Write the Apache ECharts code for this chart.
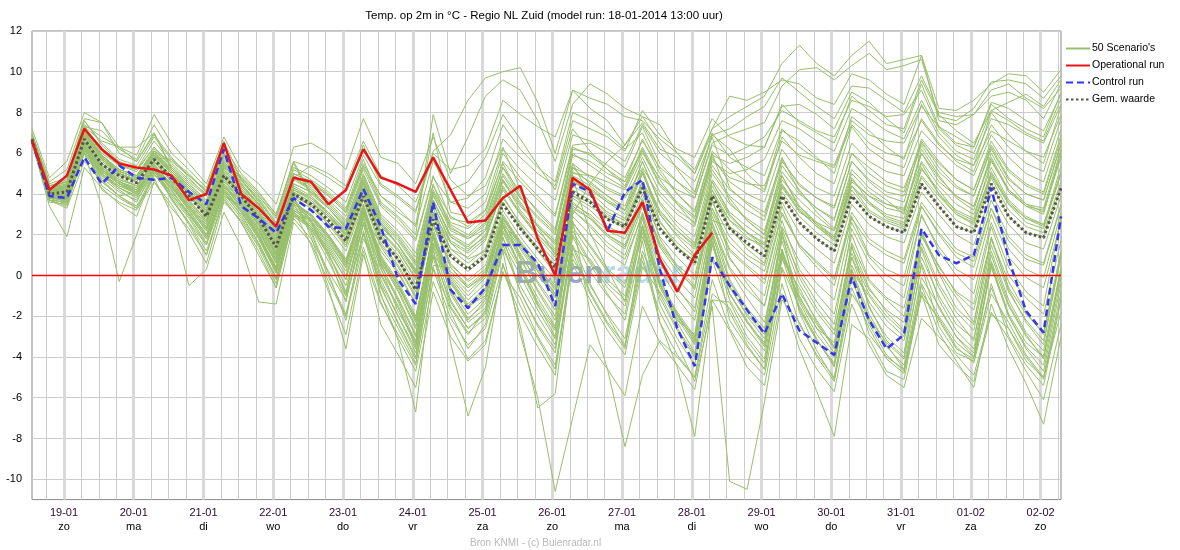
<!DOCTYPE html>
<html>
<head>
<meta charset="utf-8">
<title>Temp. op 2m - Regio NL Zuid</title>
<script src="https://cdn.jsdelivr.net/npm/echarts@6/dist/echarts.min.js"></script>
<style>
html, body { margin: 0; padding: 0; background: #fff; }
#main { width: 1180px; height: 550px; }
</style>
</head>
<body>
<div id="main"></div>
<script>
// hours since first forecast step (18-01 13:00), 6-hourly
var hours = [0,6,12,18, 24,30,36,42, 48,54,60,66, 72,78,84,90, 96,102,108,114, 120,126,132,138,
  144,150,156,162, 168,174,180,186, 192,198,204,210, 216,222,228,234, 240,246,252,258,
  264,270,276,282, 288,294,300,306, 312,318,324,330, 336,342,348,354];

// midnight of each day, in the same hours
var dayHours = [11,35,59,83,107,131,155,179,203,227,251,275,299,323,347];
var dayLabels = ['19-01','20-01','21-01','22-01','23-01','24-01','25-01','26-01','27-01','28-01','29-01','30-01','31-01','01-02','02-02'];
var weekDays = ['zo','ma','di','wo','do','vr','za','zo','ma','di','wo','do','vr','za','zo'];
var yTicks = [-10,-8,-6,-4,-2,0,2,4,6,8,10,12];

var operational = [6.6,4.2,4.9,7.2,  6.2,5.5,5.3,5.2,  4.9,3.7,4.0,6.5,  4.0,3.3,2.4,4.8,  4.6,3.5,4.2,6.2,
  4.8,4.5,4.1,5.8,  4.2,2.6,2.7,3.8,  4.4,1.8,0.0,4.8,  4.2,2.2,2.1,3.6,  0.8,-0.8,1.0,2.1];

var control = [6.6,3.9,3.8,5.8,  4.5,5.4,4.8,4.7,  4.8,4.1,3.5,6.2,  3.4,2.8,2.1,3.8,  3.2,2.4,2.3,4.25,
  2.4,-0.2,-1.4,3.6,  -0.7,-1.6,-0.6,1.5,  1.5,0.6,-1.5,4.5,  4.1,2.2,4.1,4.7,  0.3,-2.6,-4.45,0.9,
  -0.5,-1.7,-2.85,-0.9,  -2.7,-3.3,-3.9,-0.1,  -2.2,-3.6,-2.9,2.3,  1.0,0.6,1.0,4.3,  0.8,-1.75,-2.8,2.9];

var mean = [6.7,4.0,4.1,6.7,  5.45,4.9,4.55,5.7,  4.8,3.9,2.9,4.9,  3.9,2.8,1.4,4.0,  3.5,2.7,1.7,3.9,
  1.8,0.8,-0.7,2.75,  0.95,0.3,0.95,3.5,  2.3,1.3,0.4,4.1,  3.6,2.75,2.4,4.3,  2.3,1.3,0.6,3.9,
  2.3,1.6,0.95,3.9,  2.6,1.8,1.2,3.9,  2.9,2.4,2.1,4.5,  3.4,2.4,2.1,4.5,  2.9,2.1,1.85,4.3];

// freezing line, from the first to the last forecast hour
var zeroLine = [[0, 0], [354, 0]];

// the 50 ensemble members
var scenarios = [
  [6.9,4.3,4.4,7.1, 5.8,5.1,4.8,6.0, 5.0,4.1,3.2,5.3, 4.2,3.1,1.8,4.4, 3.9,3.0,2.1,4.6, 2.6,1.5,0.2,3.9, 2.4,1.8,2.3,4.9, 3.6,2.4,1.5,5.1, 4.6,3.9,3.2,5.6, 3.5,2.4,1.6,5.0, 3.8,2.7,2.0,5.4, 4.2,3.1,2.3,5.2, 4.3,3.7,3.0,6.2, 4.9,3.8,3.2,6.0, 4.5,3.5,3.1,5.8],
  [6.6,3.8,3.9,6.4, 5.2,4.6,4.2,5.4, 4.5,3.5,2.5,4.6, 3.6,2.4,0.9,3.7, 2.6,0.9,-1.3,2.6, 0.4,-1.8,-3.2,1.6, 0.2,-0.6,0.0,2.9, 1.5,0.4,-0.7,3.3, 2.8,1.9,1.3,3.6, 1.4,0.2,-0.6,3.1, 1.2,0.4,-0.4,3.0, 1.5,0.6,-0.2,3.1, 1.8,1.2,0.8,3.6, 2.4,1.3,0.9,3.7, 1.9,1.0,0.6,3.5],
  [6.8,4.1,4.2,7.4, 6.8,6.3,5.6,7.0, 5.3,4.5,3.6,5.8, 4.5,3.5,2.3,4.9, 4.4,3.7,2.9,5.2, 3.4,2.6,1.7,4.8, 3.6,3.3,4.0,6.7, 5.8,5.0,4.4,7.6, 7.2,6.8,6.1,8.1, 6.9,6.2,5.8,7.7, 6.8,6.4,6.3,8.4, 7.5,7.0,6.5,8.8, 8.1,7.4,7.2,9.6, 7.9,7.1,6.5,8.1, 7.6,7.0,6.6,8.7],
  [6.7,3.9,3.7,6.3, 5.0,4.4,4.1,5.5, 4.4,3.3,2.2,4.4, 3.3,2.0,0.4,3.3, 2.7,1.5,0.2,2.9, 0.3,-1.2,-3.0,1.6, -0.8,-2.1,-1.4,2.1, 0.4,-1.3,-2.6,2.4, 1.1,-0.2,-1.0,2.8, -0.5,-1.9,-3.1,2.1, -0.9,-2.2,-3.4,1.9, -0.4,-1.8,-2.9,1.6, -0.3,-1.2,-2.0,2.0, 0.2,-1.1,-2.3,1.8, -0.6,-1.9,-2.8,1.2],
  [6.5,4.0,4.3,6.9, 4.6,3.9,4.1,5.2, 4.9,4.0,3.0,5.0, 4.0,3.0,1.6,4.1, 3.6,2.9,2.0,4.3, 2.2,1.3,0.1,3.5, 1.6,0.8,1.2,3.9, 2.5,1.2,0.1,4.6, 4.2,3.6,3.0,5.1, 2.7,1.4,0.5,4.2, 2.4,1.3,0.6,4.4, 3.4,2.6,1.9,4.7, 3.9,3.3,3.1,6.0, 4.6,3.9,3.4,5.7, 4.1,3.4,3.2,5.9],
  [6.9,4.4,4.6,7.6, 6.4,5.6,5.2,6.6, 5.5,4.7,4.0,6.1, 4.8,3.9,2.8,5.3, 4.9,4.3,3.6,5.9, 4.4,3.8,3.1,6.0, 5.2,5.4,6.2,8.6, 7.9,7.3,6.8,9.1, 8.7,8.4,7.8,7.6, 6.7,6.0,5.2,7.2, 7.8,8.3,8.8,10.4, 11.3,10.4,9.8,10.8, 11.5,10.4,10.6,10.8, 8.2,8.1,8.6,9.4, 9.9,9.8,9.0,10.1],
  [6.5,3.6,3.5,6.0, 4.7,3.9,3.4,5.0, 3.8,2.5,1.0,3.8, 2.6,1.0,-0.6,2.8, 1.8,0.2,-1.2,2.1, -0.6,-2.3,-4.0,0.9, -1.8,-3.6,-2.4,1.2, -2.9,-6.0,-10.6,-7.0, -3.4,-4.6,-5.9,-1.5, -3.3,-4.4,-5.6,-1.2, -2.7,-4.5,-5.4,-0.9, -3.6,-5.7,-7.9,-2.4, -3.1,-4.7,-5.1,-0.8, -2.2,-3.6,-4.1,0.6, -1.9,-3.3,-4.0,0.2],
  [6.6,3.7,3.4,6.1, 4.9,4.2,3.6,5.2, 4.0,2.9,1.6,4.1, 2.9,1.6,-0.2,3.1, 2.4,1.1,-0.8,2.6, -0.9,-3.2,-6.7,0.4, -1.6,-2.9,-1.7,1.9, -0.8,-2.5,-3.8,2.0, 0.6,-0.9,-2.2,1.7, -2.3,-4.5,-7.9,-1.2, -1.3,-3.0,-4.1,1.2, -0.8,-2.2,-3.5,1.4, -0.6,-1.8,-2.7,2.2, 0.1,-1.6,-2.4,1.9, -0.7,-2.3,-3.4,1.1],
  [6.7,3.9,3.6,6.2, 5.0,4.3,3.9,5.3, 4.2,3.0,1.8,4.2, 3.1,1.8,0.2,3.2, 2.6,1.4,0.0,2.8, -0.2,-2.0,-3.6,1.4, -3.3,-6.9,-4.5,0.6, -2.5,-6.5,-5.8,1.1, -0.9,-2.4,-3.6,1.9, -0.4,-2.0,-3.2,2.4, 0.3,-1.1,-2.3,1.7, -1.0,-2.6,-3.3,1.5, -1.6,-3.0,-3.8,1.3, -1.2,-2.7,-3.6,1.0, -1.4,-2.9,-4.1,0.3],
  [6.8,4.0,3.9,6.5, 5.3,4.6,4.3,5.6, 4.6,3.5,2.4,4.5, 3.5,2.3,0.8,3.6, 3.0,2.0,0.7,3.3, 0.8,-0.7,-2.5,2.3, -0.3,-1.5,-1.0,2.5, 0.9,-0.8,-2.2,2.7, -1.8,-4.6,-8.4,-4.9, -3.2,-4.0,-5.0,-0.9, -1.6,-3.2,-4.3,0.4, -1.5,-3.1,-4.5,0.3, -1.9,-3.4,-4.6,-0.5, -2.8,-4.2,-5.5,-1.4, -3.6,-5.3,-7.3,-3.0],
  [6.6,3.9,3.8,6.4, 5.2,4.5,4.0,5.3, 4.4,3.2,2.0,4.3, 3.2,1.9,0.3,3.4, 2.8,1.7,0.4,3.1, 0.5,-1.1,-2.9,1.9, -0.9,-2.3,-1.6,1.6, 0.0,-1.7,-3.1,1.5, -0.4,-2.0,-3.5,0.7, -1.8,-3.4,-5.2,-1.5, -10.1,-10.5,-6.2,-1.2, -2.3,-4.0,-5.2,-0.9, -2.2,-3.5,-4.4,-0.1, -1.5,-3.0,-4.0,0.4, -2.0,-3.6,-4.7,-0.4],
  [6.9,4.5,4.8,7.6, 6.5,5.7,5.4,6.8, 5.7,4.9,4.2,6.3, 5.0,4.1,3.0,5.6, 5.3,4.8,4.2,6.4, 4.5,3.9,3.2,6.1, 6.9,8.6,9.7,10.0, 10.2,8.5,6.0,9.1, 8.2,7.6,6.4,7.8, 6.5,5.2,4.1,6.9, 6.2,5.0,4.2,7.1, 6.6,5.8,5.0,7.8, 7.1,6.3,5.7,8.4, 6.8,5.9,5.4,8.0, 6.9,6.1,5.5,8.3],
  [6.8,4.4,4.7,7.3, 7.1,6.2,5.7,7.4, 6.0,5.2,4.3,6.6, 4.7,3.8,2.6,5.2, 4.7,4.1,3.3,5.7, 3.6,2.9,2.0,7.9, 5.0,6.8,8.8,9.6, 9.1,7.6,5.6,8.4, 9.4,8.9,8.2,7.8, 7.4,6.0,5.0,7.2, 8.8,8.6,9.0,9.6, 9.4,8.7,8.4,9.9, 9.6,8.9,8.4,10.8, 7.6,7.4,7.9,9.1, 9.4,8.7,8.2,9.2],
  [6.7,4.2,4.3,7.0, 5.9,5.1,4.8,6.1, 5.1,4.3,3.4,5.5, 4.4,3.4,2.1,4.7, 4.2,3.5,2.6,4.9, 2.9,2.0,0.9,4.4, 2.9,2.4,3.2,6.0, 4.8,3.9,3.0,6.4, 6.5,6.0,5.3,7.3, 5.5,4.6,3.8,6.5, 6.9,7.2,7.5,9.3, 10.1,10.2,9.6,10.3, 10.9,10.1,10.3,10.6, 7.8,7.6,8.2,9.5, 9.6,9.4,8.7,9.8],
  [6.7,4.1,4.0,6.8, 5.6,5.0,4.7,5.8, 4.9,4.0,2.8,5.0, 3.9,2.7,1.3,4.0, 3.4,2.6,1.5,3.8, 1.6,0.5,-1.0,2.5, 0.5,-0.2,0.5,3.2, 1.9,0.8,-0.2,3.8, 3.2,2.4,2.0,4.0, 1.9,0.9,0.0,3.6, 1.9,1.0,0.5,3.6, 2.1,1.3,0.6,3.5, 2.5,1.9,1.6,4.1, 3.0,2.0,1.5,4.0, 2.5,1.6,1.3,3.9],
  [6.6,3.8,3.7,6.2, 5.1,4.5,4.2,5.2, 4.3,3.4,2.3,4.4, 3.4,2.2,0.6,3.5, 2.1,-0.1,-1.9,1.8, 0.1,-1.5,-3.4,1.5, -1.2,-2.6,-1.9,1.8, 0.3,-1.5,-2.7,3.0, 4.5,5.6,6.4,7.5, 6.2,5.8,5.0,7.0, 5.8,5.3,4.9,7.2, 6.3,5.7,5.4,7.6, 6.9,6.6,6.5,8.3, 7.3,6.8,6.3,8.4, 7.7,7.2,6.8,9.0],
  [6.8,4.2,4.4,7.1, 5.9,5.2,4.9,6.0, 5.2,4.3,3.5,5.5, 4.4,3.5,2.4,4.8, 4.5,3.9,3.1,5.4, 3.5,2.8,1.8,4.9, 2.8,2.6,3.2,5.5, 3.9,2.4,1.0,4.8, 2.1,0.3,-1.3,2.4, -0.4,-2.3,-3.8,1.9, -2.2,-3.5,-4.6,0.8, -0.6,-2.3,-3.6,0.9, -1.5,-3.2,-4.0,0.5, -2.5,-3.8,-4.2,-0.4, -3.0,-4.4,-5.4,-1.2],
  [6.8,4.3,4.6,7.3, 6.6,6.3,6.3,7.0, 5.2,4.4,3.5,5.6, 4.5,3.5,2.2,4.8, 4.3,3.6,2.7,5.0, 3.0,2.2,1.1,4.5, 2.3,1.9,2.6,5.3, 3.8,2.9,2.1,6.0, 5.4,4.8,4.3,6.2, 4.5,3.6,2.9,5.8, 4.6,4.0,3.6,6.2, 5.0,4.3,3.9,6.5, 5.6,5.1,4.9,7.1, 6.2,5.4,4.9,6.9, 5.8,5.0,4.6,7.2],
  [6.5,3.8,3.8,6.3, 5.1,4.5,4.1,5.2, 3.8,2.6,1.2,3.7, 2.6,1.2,-0.6,2.9, 2.8,1.9,0.7,3.2, 0.6,-0.6,-2.1,1.9, -0.1,-1.2,-0.4,2.7, 1.0,-0.3,-1.5,2.9, 2.0,1.1,0.5,3.1, 0.6,-0.7,-1.6,2.6, 0.4,-0.7,-1.5,2.4, 0.7,-0.4,-1.2,2.6, 0.9,0.0,-0.5,2.9, 1.4,0.3,-0.2,3.0, 0.9,-0.1,-0.6,2.7],
  [6.6,3.9,3.6,6.0, 3.4,-0.3,2.0,4.6, 3.5,2.1,0.6,3.6, 2.7,1.4,-0.4,3.0, 2.4,1.2,-0.2,3.0, 1.2,0.1,-1.4,3.1, 1.6,1.1,1.8,4.2, 3.0,1.9,0.9,4.7, 4.1,3.3,2.8,5.0, 3.0,2.0,1.3,4.6, 3.1,2.4,1.8,4.9, 3.4,2.5,1.8,4.4, 3.5,2.9,2.6,5.3, 4.0,3.0,2.5,5.1, 3.6,2.8,2.4,5.4],
  [6.7,3.7,3.3,5.6, 4.6,3.9,3.3,4.8, 3.0,-0.5,0.3,3.1, 1.4,-1.3,-1.4,2.6, 1.6,-0.3,-2.0,1.4, -1.3,-3.1,-4.7,-0.3, -2.4,-4.1,-3.2,0.1, -1.1,-3.0,-4.4,0.8, -0.5,-1.9,-3.1,1.2, -0.9,-2.6,-3.9,0.9, -0.5,-2.0,-3.1,1.1, -1.3,-2.9,-4.0,0.2, -1.0,-2.2,-3.0,1.4, -0.6,-2.1,-3.2,1.2, -1.2,-2.8,-3.7,0.4],
  [7.2,4.8,5.6,8.0, 7.5,6.3,5.9,7.9, 6.5,5.5,4.5,6.8, 5.2,4.5,3.5,6.3, 6.5,6.0,5.2,7.7, 5.8,5.5,4.5,6.8, 4.7,3.9,4.4,6.3, 4.2,3.1,2.2,5.5, 3.9,3.0,2.5,4.6, 3.1,2.2,1.4,4.4, 2.9,2.1,1.5,4.3, 3.2,2.4,1.7,4.4, 3.6,2.8,2.5,5.2, 4.2,3.1,2.7,5.0, 3.5,2.6,2.3,5.0],
  [6.6,3.8,3.8,6.4, 5.3,4.7,4.4,5.6, 4.6,3.6,2.6,4.7, 3.7,2.5,1.0,3.8, 2.2,0.1,-2.2,2.2, -0.5,-2.4,-4.1,1.0, 0.0,-1.0,-0.1,2.6, 1.3,0.0,-1.0,3.2, 2.5,1.6,1.0,3.4, 1.0,-0.2,-1.1,2.9, 0.8,-0.2,-1.0,2.7, 0.3,-0.9,-1.9,2.0, -0.2,-1.1,-1.6,2.1, 0.4,-0.8,-1.4,2.4, 0.0,-1.1,-1.9,1.7],
  [6.9,4.3,4.5,7.0, 5.9,5.1,4.8,6.1, 5.6,4.9,4.1,6.0, 4.3,3.2,1.9,4.5, 4.1,3.4,2.5,4.8, 2.8,1.9,0.7,4.2, 2.6,2.3,3.0,5.6, 4.6,3.7,2.9,6.3, 5.9,5.2,4.6,6.7, 5.0,4.0,3.2,6.1, 5.2,4.6,4.1,6.8, 5.8,5.0,4.5,7.3, 6.2,5.6,5.3,7.7, 6.5,5.6,5.1,7.4, 6.3,5.5,5.1,7.7],
  [6.5,3.7,3.6,6.1, 4.9,4.3,3.9,5.1, 4.1,3.1,1.9,4.1, 3.1,1.8,0.1,3.1, 2.5,1.3,-0.2,2.8, 0.0,-1.6,-3.5,1.2, -1.5,-2.8,-2.1,1.3, -0.5,-2.0,-3.4,1.9, 0.2,-1.0,-1.9,2.3, -1.1,-2.7,-4.0,1.5, -1.2,-2.6,-3.7,0.9, -1.7,-3.2,-4.4,0.1, -2.1,-3.3,-4.1,0.6, -1.6,-3.0,-3.8,0.5, -2.0,-3.5,-4.4,-0.1],
  [6.7,4.0,4.2,6.8, 5.5,4.9,4.6,5.8, 4.8,3.9,2.9,5.0, 3.9,2.8,1.4,4.1, 3.6,2.8,1.8,4.1, 2.0,1.0,-0.4,3.1, 1.3,0.6,1.3,3.8, 2.6,1.6,0.7,4.4, 3.9,3.1,2.7,4.6, 2.6,1.6,0.9,4.2, 2.7,1.9,1.3,4.1, 2.9,2.1,1.5,4.2, 3.1,2.6,2.3,4.8, 3.7,2.7,2.3,4.8, 3.2,2.4,2.1,4.6],
  [6.8,4.2,4.3,7.2, 6.0,5.4,5.2,6.3, 5.4,4.6,3.9,5.9, 4.7,3.7,2.5,5.0, 4.6,4.0,3.2,5.5, 3.9,3.3,2.4,5.6, 4.2,4.6,5.8,7.9, 6.7,5.4,4.2,7.2, 6.1,5.2,4.4,6.3, 4.7,3.5,2.5,5.9, 5.5,5.8,6.3,8.3, 8.4,7.9,7.2,9.0, 8.5,7.7,7.0,9.4, 7.3,6.5,6.3,8.5, 8.2,7.6,7.1,8.9],
  [6.6,3.8,3.5,6.0, 4.8,4.1,3.7,5.0, 3.9,2.8,1.5,3.9, 2.8,1.5,-0.2,2.9, 2.3,1.0,-0.5,2.5, -0.4,-2.0,-3.8,1.0, -1.3,-2.6,-1.8,1.5, -0.8,-2.4,-3.6,1.4, -0.8,-2.3,-3.4,1.0, -2.3,-3.9,-5.0,-0.2, -2.6,-4.0,-4.9,-0.4, -3.1,-4.6,-5.7,-1.4, -3.4,-4.9,-5.5,-2.1, -3.0,-3.9,-4.9,-1.8, -3.1,-4.7,-6.1,-2.4],
  [6.7,4.1,4.4,7.0, 5.8,5.0,4.6,5.9, 5.0,4.1,3.1,5.2, 4.1,3.1,1.8,4.3, 3.8,3.1,2.2,4.4, 2.4,1.5,0.3,3.7, 1.9,1.4,2.2,4.7, 3.2,2.2,1.3,5.5, 4.8,4.2,3.8,5.3, 3.9,3.0,2.4,5.4, 4.2,3.6,3.1,5.7, 4.4,3.8,3.4,6.0, 5.3,4.6,4.3,6.5, 5.5,4.7,4.2,6.4, 5.1,4.4,4.0,6.7],
  [6.7,3.8,3.7,6.5, 4.2,3.6,3.2,4.6, 3.3,2.3,1.0,3.9, 3.4,2.0,0.4,3.6, 2.9,1.8,0.5,3.5, 0.6,-1.3,-3.3,2.1, -0.7,-2.2,-1.2,2.4, 0.4,-1.4,-3.0,2.6, 1.4,0.2,-0.6,3.0, -0.2,-1.9,-3.3,2.2, -0.3,-1.7,-2.8,2.0, 0.1,-1.3,-2.4,2.3, 0.6,-0.4,-1.1,3.0, 1.2,0.0,-0.9,2.6, 0.4,-0.8,-1.5,2.9],
  [6.8,4.2,4.1,6.9, 5.7,5.0,4.7,5.9, 5.0,4.0,3.0,5.1, 4.0,2.9,1.5,4.2, 3.8,3.0,2.0,4.2, 2.1,1.2,-0.2,3.3, 1.3,0.9,1.7,4.4, 3.0,2.0,1.2,5.0, 4.9,4.6,4.2,6.0, 4.8,4.2,3.8,6.4, 5.9,6.3,6.8,8.1, 7.6,7.1,6.8,8.6, 8.3,7.8,7.9,9.1, 7.2,6.4,6.0,8.1, 8.5,8.9,8.3,9.6],
  [6.6,3.9,3.9,6.5, 4.4,3.8,3.3,4.9, 4.6,3.6,2.6,4.7, 3.6,2.5,1.0,3.8, 3.3,2.3,1.2,3.5, 1.0,-0.3,-2.0,2.0, -0.4,-1.6,-0.8,2.4, 1.1,-0.4,-1.7,3.4, 2.8,2.0,1.5,3.8, 1.5,0.4,-0.5,3.3, 1.6,0.8,0.2,3.4, 1.4,0.4,-0.5,2.9, 1.0,0.3,-0.1,3.4, 2.0,0.9,0.4,3.3, 1.3,0.3,-0.1,3.1],
  [6.7,4.0,3.9,6.6, 5.4,4.8,4.4,5.6, 4.7,3.7,2.7,4.8, 3.8,2.6,1.1,3.9, 3.4,2.5,1.4,3.7, 1.4,0.2,-1.4,2.6, 0.6,-0.3,0.3,3.0, 1.6,0.4,-0.6,3.6, 2.9,2.0,1.4,3.5, 0.8,-0.6,-1.8,2.6, -0.2,-1.6,-2.6,2.2, -1.8,-3.7,-5.1,0.0, -2.9,-4.0,-4.6,-0.9, -3.4,-4.4,-5.2,-1.9, -2.6,-4.2,-5.0,-1.8],
  [6.9,4.4,4.6,7.3, 6.1,5.4,5.1,6.3, 5.3,4.5,3.7,5.7, 4.6,3.7,2.5,5.0, 4.6,3.9,3.1,5.3, 3.9,3.1,2.5,7.0, 3.1,2.9,3.6,6.2, 5.2,4.4,3.7,6.9, 6.6,6.2,5.6,7.4, 6.0,5.3,4.6,6.8, 4.3,3.5,2.9,5.8, 4.1,3.3,2.7,5.6, 4.6,3.9,3.6,6.6, 5.3,4.4,3.9,6.3, 4.8,4.0,3.7,6.4],
  [6.6,3.9,4.0,6.5, 5.3,4.6,4.3,5.5, 3.7,2.6,1.5,4.3, 3.7,2.5,1.1,3.8, 2.7,1.1,-0.9,3.0, 1.5,0.4,-1.1,2.5, 0.4,-0.5,0.2,2.8, 1.7,0.6,-0.5,3.5, 3.0,2.2,1.8,3.7, 1.6,0.5,-0.2,3.3, 1.3,0.5,-0.2,3.1, 1.5,0.7,-0.1,2.8, 1.6,1.0,0.6,3.4, 2.1,1.1,0.7,3.3, 1.7,0.8,0.5,3.4],
  [6.5,3.4,1.9,5.3, 4.3,3.5,2.9,5.1, 4.0,3.0,2.0,4.2, 3.2,2.0,0.3,3.2, 2.7,1.6,0.4,3.1, 0.8,-0.5,-2.1,1.9, 0.1,-0.8,0.0,2.5, 1.6,0.3,-0.9,3.9, 3.6,2.8,2.3,4.3, 2.4,1.4,0.7,4.0, 2.7,2.1,1.6,4.5, 3.2,2.4,1.8,4.6, 3.9,3.5,3.3,5.6, 4.4,3.5,3.0,5.3, 3.7,2.9,2.5,5.1],
  [7.0,4.6,5.2,7.7, 7.5,6.0,5.6,6.9, 5.8,4.8,3.9,5.9, 4.7,3.6,2.3,4.8, 4.2,3.3,2.3,4.6, 2.5,1.5,0.1,3.7, 1.9,1.3,1.9,4.3, 3.1,2.0,1.1,4.9, 4.4,3.7,3.2,5.2, 3.0,1.9,1.0,4.6, 3.0,2.1,1.3,4.7, 3.7,2.9,2.2,5.0, 4.1,3.5,3.2,6.0, 4.8,3.9,3.4,5.8, 4.2,3.4,3.0,6.1],
  [6.6,3.7,3.6,6.2, 5.0,4.3,3.8,5.2, 4.2,3.0,1.8,4.0, 3.0,1.6,-0.1,3.0, 2.3,0.7,-1.0,2.0, -1.0,-2.6,-4.3,0.3, -2.1,-3.4,-2.6,0.5, -1.5,-3.1,-4.6,0.6, -1.2,-2.7,-3.9,0.4, -0.8,-2.2,-2.9,2.7, 2.4,1.8,1.5,4.4, 3.1,2.6,2.2,4.8, 3.6,3.0,2.8,5.5, 4.0,3.2,2.8,5.6, 4.2,3.5,3.3,6.2],
  [6.8,4.3,4.4,7.1, 5.9,5.2,4.9,6.1, 5.1,4.2,3.3,5.4, 4.3,3.3,2.0,4.5, 4.1,3.3,2.4,4.7, 2.7,1.8,0.6,4.1, 2.5,2.0,2.8,5.3, 4.1,3.2,2.3,6.2, 6.0,5.4,4.8,6.6, 5.3,4.6,4.0,6.9, 7.2,7.8,8.3,9.7, 9.0,8.3,7.7,9.3, 9.2,8.6,8.0,9.8, 8.0,7.8,7.9,8.8, 9.0,8.6,7.7,9.4],
  [6.7,3.9,3.9,6.4, 5.2,4.6,4.2,5.4, 4.5,3.4,2.3,4.4, 3.4,2.2,0.7,3.5, 3.0,1.9,0.6,3.2, 0.7,-0.8,-2.6,1.8, -0.6,-1.9,-1.1,2.2, 0.5,-1.1,-2.5,2.2, 0.7,-0.6,-1.5,2.1, -1.4,-3.1,-4.4,0.8, -1.8,-3.4,-4.6,0.3, -2.4,-3.9,-5.0,-0.6, -2.6,-4.1,-4.8,-1.0, -2.1,-3.5,-4.3,-0.9, -2.3,-3.9,-5.0,-0.8],
  [6.8,4.1,4.2,6.9, 5.7,5.0,4.7,5.8, 5.7,5.0,4.1,6.5, 4.0,2.9,1.6,4.2, 3.7,2.9,1.9,4.1, 1.8,0.7,-0.8,2.9, 0.9,0.2,0.9,3.6, 2.3,1.2,0.3,4.5, 4.3,3.6,3.2,5.0, 3.2,2.2,1.5,4.7, 3.5,2.8,2.2,5.1, 4.0,3.3,2.8,5.6, 4.7,4.1,3.9,6.4, 5.1,4.3,3.9,6.2, 4.7,4.0,3.7,6.5],
  [6.6,3.9,4.0,6.6, 5.4,4.7,4.4,5.6, 4.7,3.7,2.7,4.8, 3.8,2.6,1.2,3.9, 1.9,-0.6,-3.6,1.0, -1.4,-2.9,-4.4,0.5, 0.4,-0.6,0.1,2.8, 1.4,0.2,-0.9,3.2, 2.4,1.4,0.8,2.9, 0.3,-1.1,-2.2,2.0, -0.6,-1.9,-2.9,1.3, -1.2,-2.6,-3.8,0.5, -1.3,-2.5,-3.2,0.9, -1.0,-2.4,-3.1,0.7, -1.5,-3.0,-4.0,0.2],
  [6.8,4.2,4.4,7.0, 5.8,5.1,4.8,6.0, 5.1,4.2,3.3,5.4, 4.9,4.0,3.0,5.6, 4.0,3.3,2.4,4.6, 2.6,1.7,0.5,4.0, 2.2,1.8,2.5,5.0, 3.8,2.8,2.0,5.9, 5.6,5.0,4.6,6.1, 4.4,3.5,2.8,5.7, 4.8,4.5,4.4,6.6, 5.9,5.6,5.3,7.4, 6.5,6.0,5.8,7.6, 6.4,5.7,5.4,7.1, 6.6,6.1,5.8,7.9],
  [6.6,3.8,3.8,6.4, 5.2,4.5,4.2,5.4, 4.4,3.4,2.3,4.5, 3.5,2.3,0.8,3.6, 3.0,2.0,0.8,3.4, 0.9,-0.4,-2.2,2.1, -0.2,-1.4,-0.6,2.8, 1.6,0.2,-1.1,3.9, 3.4,2.8,2.4,4.6, 1.8,0.4,-0.7,3.8, 0.9,-0.4,-1.5,2.3, -0.1,-1.6,-2.7,1.1, -0.7,-1.7,-2.3,1.9, 0.5,-0.9,-1.7,1.8, -0.3,-1.8,-2.9,1.0],
  [6.8,4.3,4.5,7.1, 5.9,5.2,4.9,6.2, 5.2,4.4,3.5,5.6, 4.5,3.5,2.3,4.8, 5.4,5.0,4.4,6.6, 4.9,4.4,3.6,5.8, 3.6,3.8,4.8,7.4, 6.2,5.3,4.6,8.0, 7.6,7.0,6.2,7.0, 5.2,4.0,3.1,6.0, 3.6,2.7,2.0,4.9, 3.3,2.5,1.9,4.4, 3.2,2.7,2.4,4.9, 3.9,3.0,2.6,4.9, 3.5,2.8,2.5,5.0],
  [6.6,3.8,3.7,6.2, 5.0,4.4,4.0,5.3, 4.3,3.2,2.0,4.2, 3.2,1.9,0.2,3.2, 1.5,-0.8,-2.9,1.2, -2.4,-3.9,-5.5,-0.8, -3.0,-4.2,-3.4,0.2, -1.9,-3.5,-4.9,1.3, 0.8,-0.4,-1.2,2.4, -0.6,-2.1,-3.4,1.6, -0.9,-2.3,-3.5,1.0, -1.1,-2.4,-3.5,0.9, -0.9,-2.0,-2.8,1.6, -0.4,-1.8,-2.7,1.5, -0.8,-2.2,-3.2,0.9],
  [6.7,4.0,4.1,6.7, 5.5,4.9,4.6,5.7, 4.8,3.9,2.9,4.9, 3.9,2.8,1.4,4.0, 3.5,2.6,1.6,3.9, 1.9,0.8,-0.6,3.0, 1.1,0.4,1.1,3.6, 2.4,1.4,0.5,4.2, 3.7,2.9,2.5,4.4, 2.4,1.4,0.7,4.0, 2.3,1.5,0.9,3.9, 2.6,1.8,1.2,4.0, 2.9,2.4,2.1,4.5, 3.4,2.4,2.1,4.5, 2.9,2.1,1.9,4.3],
  [6.7,4.1,4.3,6.9, 5.7,5.0,4.7,5.9, 5.0,4.1,3.1,5.2, 4.1,3.0,1.7,4.3, 3.8,3.0,2.0,4.3, 2.2,1.2,-0.1,3.5, 1.7,1.2,2.0,4.6, 3.4,2.5,1.7,5.3, 4.9,4.3,3.9,5.8, 4.1,3.2,2.6,5.6, 5.0,5.2,5.7,7.6, 7.2,6.6,6.1,8.2, 7.7,7.1,6.7,8.6, 7.0,6.1,5.7,7.7, 7.4,6.9,6.5,8.4],
  [6.6,3.8,3.8,6.3, 5.1,4.5,4.1,5.3, 4.4,3.3,2.2,4.4, 3.4,2.1,0.6,3.5, 2.9,1.9,0.6,3.3, 0.9,-0.5,-2.3,2.0, -0.3,-1.5,-0.7,2.4, 0.8,-0.7,-2.0,2.6, 1.5,0.3,-0.4,2.5, -0.3,-1.8,-3.0,1.7, -0.9,-2.3,-3.3,1.3, -1.6,-3.2,-4.3,0.3, -2.4,-3.9,-4.7,-0.4, -2.0,-3.3,-4.0,-0.6, -2.6,-4.0,-5.1,-1.1],
  [6.8,4.2,4.3,7.0, 5.8,5.1,4.8,6.0, 5.0,4.1,3.2,5.3, 4.8,3.9,2.9,5.5, 3.9,3.1,2.2,4.5, 2.5,1.5,0.2,3.7, 2.0,1.5,2.2,4.7, 3.5,2.4,1.6,5.3, 4.5,3.9,3.4,5.6, 3.6,2.6,1.9,5.2, 3.9,3.2,2.7,5.6, 4.5,3.8,3.3,6.0, 5.0,4.4,4.1,6.7, 5.6,4.7,4.2,6.6, 5.2,4.5,4.1,6.9]
];

function pairs(values) {
  return values.map(function (v, i) { return [hours[i], v]; });
}

// thin 6-hourly grid positions
var sixHourLines = [];
for (var h = 5; h < 354; h += 6) sixHourLines.push(h);

// horizontal grid colours: the 0 line is red as well
var ySplitColors = yTicks.map(function (t) { return t === 0 ? '#ff0000' : '#cccccc'; });

var chart = echarts.init(document.getElementById('main'));

// thick grey day separators, below the ensemble
var series = [{
  name: 'dagen',
  type: 'line',
  data: [],
  silent: true,
  z: 1,
  markLine: {
    silent: true,
    z: 1,
    symbol: 'none',
    label: { show: false },
    lineStyle: { color: '#d9d9d9', width: 3, type: 'solid' },
    data: dayHours.map(function (d) { return { xAxis: d }; })
  }
}];

scenarios.forEach(function (s) {
  series.push({
    name: "50 Scenario's",
    type: 'line',
    data: pairs(s),
    symbol: 'none',
    silent: true,
    z: 2,
    lineStyle: { color: '#98bf6c', width: 1 },
    itemStyle: { color: '#98bf6c' }
  });
});

series.push({
  name: 'nul',
  type: 'line',
  data: zeroLine,
  symbol: 'none',
  silent: true,
  z: 10,
  lineStyle: { color: '#ff0000', width: 1.4 },
  itemStyle: { color: '#ff0000' }
});
series.push({
  name: 'Gem. waarde',
  type: 'line',
  data: pairs(mean),
  symbol: 'none',
  z: 11,
  lineStyle: { color: '#55554a', width: 3, type: [2.5, 2.5] },
  itemStyle: { color: '#55554a' }
});
series.push({
  name: 'Control run',
  type: 'line',
  data: pairs(control),
  symbol: 'none',
  z: 12,
  lineStyle: { color: '#3535f0', width: 2.5, type: [7, 4] },
  itemStyle: { color: '#3535f0' }
});
series.push({
  name: 'Operational run',
  type: 'line',
  data: pairs(operational),
  symbol: 'none',
  z: 13,
  lineStyle: { color: '#e8161b', width: 2.5 },
  itemStyle: { color: '#e8161b' }
});

var option = {
  animation: false,
  backgroundColor: '#fff',
  textStyle: { fontFamily: 'Liberation Sans, Arial, sans-serif' },
  title: {
    text: 'Temp. op 2m in \u00B0C - Regio NL Zuid (model run: 18-01-2014 13:00 uur)',
    left: 539,
    top: 5,
    textAlign: 'center',
    textStyle: { fontSize: 11.5, fontWeight: 'normal', color: '#000' }
  },
  legend: {
    data: ["50 Scenario's", 'Operational run', 'Control run', 'Gem. waarde'],
    orient: 'vertical',
    left: 1060,
    top: 38,
    itemWidth: 24,
    itemHeight: 12,
    itemGap: 6,
    selectedMode: false,
    itemStyle: { opacity: 0 },
    textStyle: { fontSize: 10.5, color: '#000', padding: [0, 0, 0, -3] }
  },
  grid: {
    left: 32, right: 119, top: 31, bottom: 50.4,
    show: true, borderColor: '#888', borderWidth: 1
  },
  xAxis: {
    type: 'value', min: 0, max: 354,
    axisLine: { show: false, onZero: false, lineStyle: { color: '#ff0000' } },
    axisTick: { show: false, customValues: sixHourLines },
    axisLabel: {
      show: true,
      customValues: dayHours,
      margin: 6,
      lineHeight: 14,
      fontSize: 11,
      color: '#000',
      formatter: function (v) {
        var k = dayHours.indexOf(Math.round(v));
        return k < 0 ? '' : '{d|' + dayLabels[k] + '}\n' + weekDays[k];
      },
      rich: { d: { color: '#2a0a2a', fontSize: 11, lineHeight: 14 } }
    },
    splitLine: { show: true, lineStyle: { color: '#cccccc', width: 1 } }
  },
  yAxis: {
    type: 'value', min: -11, max: 12,
    axisLine: { show: false, onZero: false, lineStyle: { color: '#888' } },
    axisTick: { show: false, customValues: yTicks },
    axisLabel: { customValues: yTicks, margin: 10, fontSize: 11, color: '#000' },
    splitLine: { show: true, lineStyle: { color: ySplitColors, width: 1 } }
  },
  graphic: [
    {
      type: 'text', left: 515, top: 258, z: 1, silent: true,
      style: { text: 'Buien', fill: 'rgba(105,125,185,0.7)', font: 'bold 32px Liberation Sans, Arial, sans-serif' }
    },
    {
      type: 'text', left: 603, top: 258, z: 1, silent: true,
      style: { text: 'radar', fill: 'rgba(150,205,235,0.75)', font: 'bold 32px Liberation Sans, Arial, sans-serif' }
    },
    {
      type: 'text', left: 470, top: 538, z: 1, silent: true,
      style: { text: 'Bron KNMI - (c) Buienradar.nl', fill: '#b8b8b8', font: '10px Liberation Sans, Arial, sans-serif' }
    }
  ],
  series: series
};

chart.setOption(option);
window.onresize = function () { chart.resize(); };
</script>
</body>
</html>
